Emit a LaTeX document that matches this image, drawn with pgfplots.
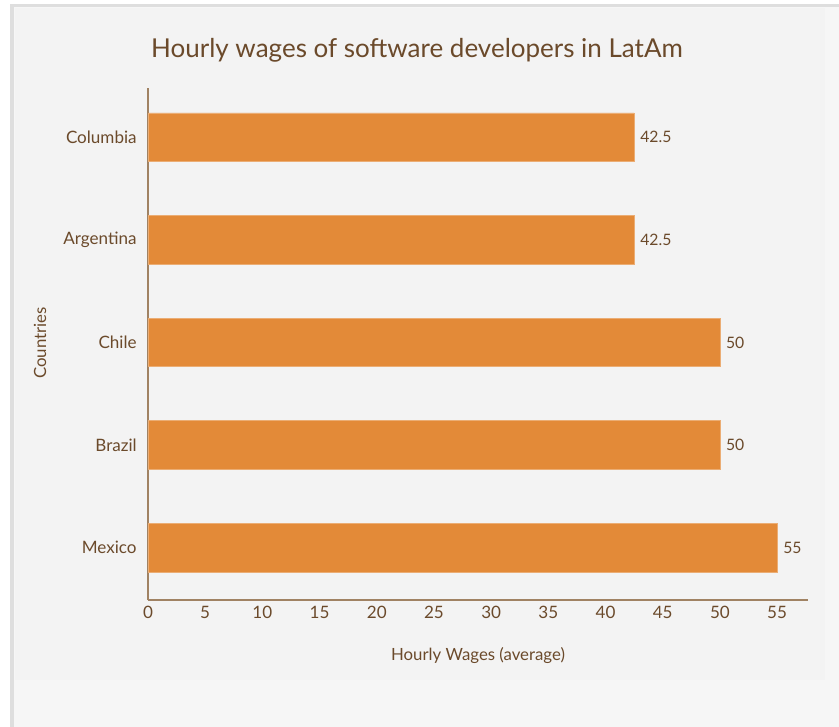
\documentclass[border=0pt]{standalone}
\usepackage{fontspec}
\setmainfont{Lato}
\usepackage{pgfplots}
\pgfplotsset{compat=1.18}
\definecolor{txt}{HTML}{6B4A2B}
\definecolor{barc}{HTML}{E38A38}
\definecolor{axl}{HTML}{A08263}
\definecolor{panel}{HTML}{F3F3F3}
\definecolor{outer}{HTML}{F6F6F6}
\definecolor{brd}{HTML}{DEDEDE}
\begin{document}
\begin{tikzpicture}[x=0.75pt,y=-0.75pt]
\fill[white] (0,0) rectangle (839,727);
\fill[outer] (10,4) rectangle (839,727);
\fill[brd] (10,4) rectangle (839,7);
\fill[brd] (10,4) rectangle (14,727);
\fill[panel] (15,8) rectangle (825,680);
\node[txt,font=\fontsize{19.5pt}{22pt}\selectfont] at (417,50) {Hourly wages of software developers in LatAm};
\node[txt,font=\fontsize{12.6pt}{14pt}\selectfont] at (478,656) {Hourly Wages (average)};
\node[txt,font=\fontsize{12.6pt}{14pt}\selectfont,rotate=90] at (40,343) {Countries};
\begin{axis}[
  at={(111pt,-450pt)}, anchor=south west,
  scale only axis,
  width=495pt, height=384pt,
  xbar, bar width=36.5pt,
  xmin=0, xmax=57.7,
  ymin=-0.51, ymax=4.48,
  axis x line*=bottom, axis y line*=left,
  axis line style={axl, line width=0.9pt},
  separate axis lines,
  x axis line style={-}, y axis line style={-},
  xtick={0,5,...,55},
  ytick={0,1,2,3,4},
  yticklabels={Mexico,Brazil,Chile,Argentina,Columbia},
  major tick length=0pt,
  tick label style={txt, font=\fontsize{12.8pt}{14pt}\selectfont},
  xticklabel style={yshift=-3pt, text height=1.4ex, text depth=0pt, anchor=north},
  yticklabel style={xshift=-5pt},
  /pgf/number format/assume math mode=true,
  nodes near coords,
  nodes near coords style={txt, font=\fontsize{11.8pt}{13pt}\selectfont, anchor=west, xshift=1pt},
  point meta=explicit symbolic,
  clip=false,
]
\addplot[fill=barc, draw=barc!70!white, line width=0.6pt] coordinates {
  (55,0) [55]
  (50,1) [50]
  (50,2) [50]
  (42.5,3) [42.5]
  (42.5,4) [42.5]
};
\end{axis}
\end{tikzpicture}
\end{document}
